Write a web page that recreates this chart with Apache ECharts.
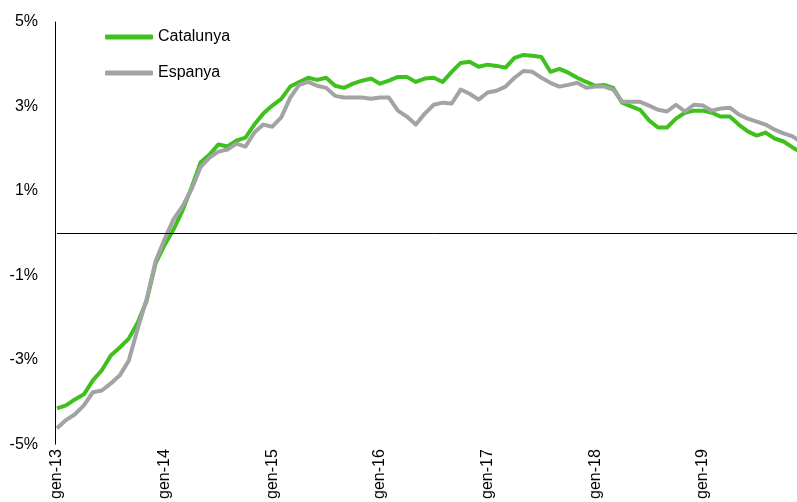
<!DOCTYPE html>
<html>
<head>
<meta charset="utf-8">
<script src="https://cdn.jsdelivr.net/npm/echarts@6/dist/echarts.min.js"></script>
<style>
html,body{margin:0;padding:0;background:#fff;overflow:hidden;width:797px;height:502px;}
#chart{width:830px;height:502px;}
</style>
</head>
<body>
<div id="chart"></div>
<script>
// Monthly categories Jan 2013 .. Jan 2020 (Catalan abbreviations)
const monthNames = ["gen","febr","març","abr","maig","juny","jul","ag","set","oct","nov","des"];
const years = ["13","14","15","16","17","18","19","20"];
const categories = [];
years.forEach(function(y){ monthNames.forEach(function(m){ categories.push(m + "-" + y); }); });
categories.length = 85;

const seriesNames = ["Catalunya", "Espanya"];

const catalunya = [
 -4.15,-4.08,-3.94,-3.82,-3.49,-3.25,-2.90,-2.71,-2.50,-2.12,-1.60,-0.71,
 -0.28,0.09,0.54,1.08,1.67,1.86,2.10,2.05,2.19,2.26,2.57,2.83,
 3.02,3.18,3.47,3.58,3.68,3.63,3.68,3.49,3.44,3.54,3.61,3.66,
 3.54,3.61,3.70,3.70,3.58,3.66,3.68,3.58,3.82,4.03,4.06,3.94,
 3.99,3.96,3.92,4.15,4.22,4.20,4.17,3.82,3.89,3.80,3.68,3.58,
 3.49,3.51,3.44,3.09,3.00,2.92,2.67,2.50,2.50,2.71,2.85,2.90,
 2.90,2.85,2.76,2.76,2.57,2.41,2.31,2.38,2.24,2.17,2.03,1.91,
 1.82
];

const espanya = [
 -4.62,-4.43,-4.29,-4.08,-3.77,-3.73,-3.56,-3.37,-3.02,-2.26,-1.56,-0.66,
 -0.14,0.33,0.64,1.04,1.56,1.79,1.93,1.98,2.12,2.05,2.38,2.57,
 2.52,2.74,3.21,3.51,3.58,3.49,3.44,3.25,3.21,3.21,3.21,3.18,
 3.21,3.21,2.90,2.76,2.57,2.83,3.04,3.09,3.07,3.40,3.30,3.16,
 3.33,3.37,3.47,3.68,3.84,3.82,3.68,3.56,3.47,3.51,3.56,3.44,
 3.47,3.47,3.40,3.11,3.11,3.11,3.02,2.92,2.88,3.04,2.88,3.04,
 3.02,2.90,2.95,2.97,2.81,2.71,2.64,2.57,2.45,2.36,2.29,2.15,
 2.05
];

const yMin = -5, yMax = 5, yStep = 2;

const chart = echarts.init(document.getElementById('chart'), null, {renderer: 'canvas'});
const font = '"Liberation Sans", Arial, sans-serif';
const green = '#3fc01c', gray = '#a2a3a5';

chart.setOption({
  animation: false,
  backgroundColor: '#ffffff',
  textStyle: { fontFamily: font },
  grid: { left: 57, top: 22, height: 426, width: 753.5, containLabel: false },
  legend: {
    orient: 'vertical',
    left: 105, top: 29, padding: 0,
    icon: 'roundRect',
    itemWidth: 48, itemHeight: 5, itemGap: 20,
    data: seriesNames,
    textStyle: { fontFamily: font, fontSize: 16, lineHeight: 16, color: '#000' }
  },
  xAxis: {
    type: 'category',
    data: categories,
    boundaryGap: false,
    axisLine: { show: false, onZero: false },
    axisTick: { show: false },
    splitLine: { show: false },
    axisLabel: {
      rotate: 90, margin: 5,
      interval: function(i){ return i % 12 === 0; },
      fontFamily: font, fontSize: 16, color: '#000'
    }
  },
  yAxis: {
    type: 'value',
    min: yMin, max: yMax, interval: yStep,
    offset: 2,
    axisLine: { show: true, lineStyle: { color: '#000', width: 1 } },
    axisTick: { show: false },
    splitLine: { show: false },
    axisLabel: {
      margin: 17,
      formatter: function(v){ return v + '%'; },
      fontFamily: font, fontSize: 16, color: '#000'
    }
  },
  series: [
    {
      name: seriesNames[0], type: 'line', data: catalunya,
      symbol: 'none', smooth: false,
      lineStyle: { color: green, width: 4, join: 'round', cap: 'butt' },
      itemStyle: { color: green },
      markLine: {
        silent: true, symbol: 'none', animation: false,
        label: { show: false },
        lineStyle: { color: '#000', width: 1, type: 'solid' },
        data: [{ yAxis: 0 }]
      },
      z: 3
    },
    {
      name: seriesNames[1], type: 'line', data: espanya,
      symbol: 'none', smooth: false,
      lineStyle: { color: gray, width: 4, join: 'round', cap: 'butt' },
      itemStyle: { color: gray },
      z: 4
    }
  ]
});
</script>
</body>
</html>
